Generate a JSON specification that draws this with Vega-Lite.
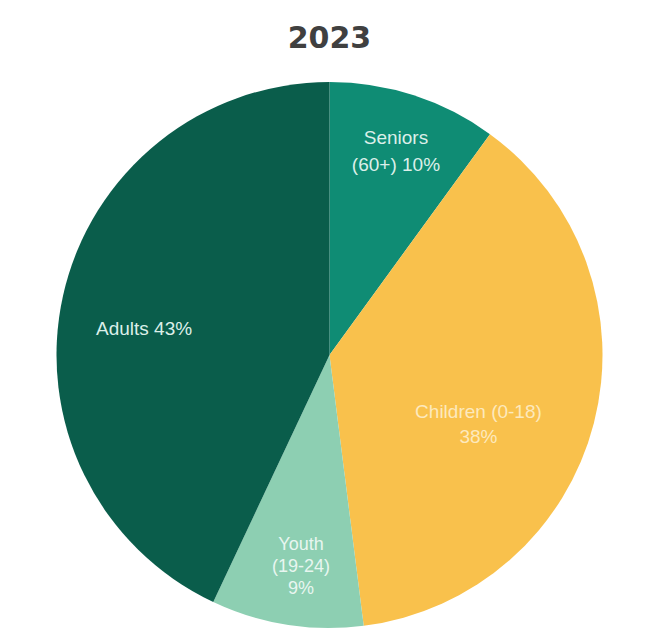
{
  "$schema": "https://vega.github.io/schema/vega-lite/v6.json",
  "width": 659,
  "height": 578,
  "autosize": "none",
  "padding": {"left": 0, "right": 0, "top": 66, "bottom": 0},
  "background": "white",
  "title": {
    "text": "2023",
    "fontSize": 30,
    "font": "DejaVu Sans",
    "fontWeight": "bold",
    "color": "#404040",
    "anchor": "middle",
    "offset": 12
  },
  "config": {"view": {"stroke": null}},
  "data": {
    "values": [
      {"group": "Seniors", "rank": 1, "share": 10, "label": "Seniors\n(60+) 10%"},
      {"group": "Children", "rank": 2, "share": 38, "label": "Children (0-18)\n38%"},
      {"group": "Youth", "rank": 3, "share": 9, "label": "Youth\n(19-24)\n9%"},
      {"group": "Adults", "rank": 4, "share": 43, "label": "Adults 43%"}
    ]
  },
  "encoding": {
    "theta": {"field": "share", "type": "quantitative", "stack": true},
    "order": {"field": "rank", "type": "quantitative"}
  },
  "layer": [
    {
      "mark": {"type": "arc", "outerRadius": 273},
      "encoding": {
        "color": {
          "field": "group",
          "type": "nominal",
          "scale": {
            "domain": ["Seniors", "Children", "Youth", "Adults"],
            "range": ["#0f8c74", "#f9c14c", "#8dcfb2", "#0a5d4b"]
          },
          "legend": null
        }
      }
    },
    {
      "mark": {"type": "text", "radius": 215, "dy": -13, "font": "Liberation Sans", "fontSize": 19, "lineBreak": "\n", "lineHeight": 27, "align": "center", "baseline": "middle", "color": "#dcefe9"},
      "encoding": {"text": {"condition": {"test": "datum.group === 'Seniors'", "field": "label"}, "value": ""}}
    },
    {
      "mark": {"type": "text", "radius": 160, "dx": -6, "dy": 17, "font": "Liberation Sans", "fontSize": 19, "lineBreak": "\n", "lineHeight": 25, "align": "center", "baseline": "middle", "color": "#fde9bd"},
      "encoding": {"text": {"condition": {"test": "datum.group === 'Children'", "field": "label"}, "value": ""}}
    },
    {
      "mark": {"type": "text", "radius": 214, "dx": 5, "dy": -21, "font": "Liberation Sans", "fontSize": 18, "lineBreak": "\n", "lineHeight": 22, "align": "center", "baseline": "middle", "color": "#e8f6f0"},
      "encoding": {"text": {"condition": {"test": "datum.group === 'Youth'", "field": "label"}, "value": ""}}
    },
    {
      "mark": {"type": "text", "radius": 190, "dy": 15, "font": "Liberation Sans", "fontSize": 19, "lineBreak": "\n", "align": "center", "baseline": "middle", "color": "#dcefe9"},
      "encoding": {"text": {"condition": {"test": "datum.group === 'Adults'", "field": "label"}, "value": ""}}
    }
  ]
}
